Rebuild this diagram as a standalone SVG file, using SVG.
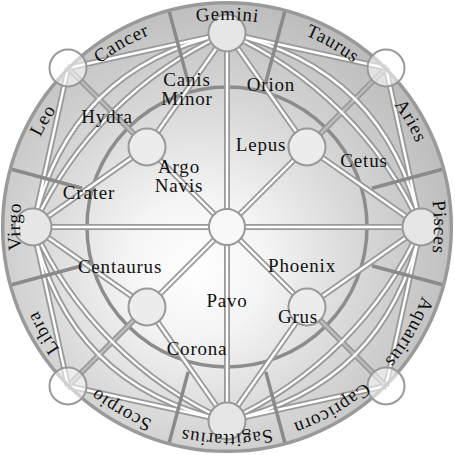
<svg xmlns="http://www.w3.org/2000/svg" width="455" height="455" viewBox="0 0 455 455">
<defs>
<radialGradient id="bg" gradientUnits="userSpaceOnUse" cx="200" cy="262" r="268" fx="195" fy="268">
<stop offset="0" stop-color="#ffffff"/>
<stop offset="0.25" stop-color="#f5f5f5"/>
<stop offset="0.6" stop-color="#d8d8d8"/>
<stop offset="1" stop-color="#bcbcbc"/>
</radialGradient>
<path id="ring" d="M 280.58,27.05 A 207,207 0 0 1 173.42,426.95 A 207,207 0 0 1 280.58,27.05"/>
<style>
.cas{fill:none;stroke:#9a9a9a;stroke-width:6}
.wht{fill:none;stroke:#ffffff;stroke-width:2.4}
.dg{fill:none;stroke:#bdbdbd;stroke-width:2.4}
.div{stroke:#8a8a8a;stroke-width:3.5;stroke-linecap:butt}
.node{fill:#e6e6e6;stroke:#999;stroke-width:2}
.inner{fill:#ececec;stroke:#999;stroke-width:2}
.corner{fill:#ffffff;fill-opacity:0.55;stroke:#999;stroke-width:2}
.t{font-family:"Liberation Serif","Times New Roman",serif;font-size:19px;fill:#111;letter-spacing:0.8px}
.m{text-anchor:middle}
</style>
</defs>

<g id="background">
<circle cx="227" cy="227" r="225" fill="url(#bg)"/>
<circle cx="227" cy="227" r="140" fill="none" stroke="#8c8c8c" stroke-width="3.5"/>
</g>

<g id="connectors">
<g class="cas">
<path d="M147,147 L68,68"/><path d="M307,147 L386,68"/><path d="M307,307 L386,386"/><path d="M147,307 L68,386"/>
<path d="M227,227 L227,33"/><path d="M227,227 L421,227"/><path d="M227,227 L227,421"/><path d="M227,227 L33,227"/>
<path d="M227,227 L147,147"/><path d="M227,227 L307,147"/><path d="M227,227 L307,307"/><path d="M227,227 L147,307"/>
<path d="M227,33 L68,68"/><path d="M227,33 L386,68"/><path d="M421,227 L386,68"/><path d="M421,227 L386,386"/>
<path d="M227,421 L386,386"/><path d="M227,421 L68,386"/><path d="M33,227 L68,386"/><path d="M33,227 L68,68"/>
<path d="M227,33 L147,147"/><path d="M227,33 L307,147"/><path d="M421,227 L307,147"/><path d="M421,227 L307,307"/>
<path d="M227,421 L307,307"/><path d="M227,421 L147,307"/><path d="M33,227 L147,307"/><path d="M33,227 L147,147"/>
<path d="M227,33 Q386,68 421,227"/><path d="M421,227 Q386,386 227,421"/><path d="M227,421 Q68,386 33,227"/><path d="M33,227 Q68,68 227,33"/>
<path d="M227,33 A387,387 0 0 1 421,227"/><path d="M421,227 A387,387 0 0 1 227,421"/><path d="M227,421 A387,387 0 0 1 33,227"/><path d="M33,227 A387,387 0 0 1 227,33"/>
</g>
<g class="dg">
<path d="M147,147 L68,68"/><path d="M307,147 L386,68"/><path d="M307,307 L386,386"/><path d="M147,307 L68,386"/>
</g>
<g class="wht">
<path d="M227,227 L227,33"/><path d="M227,227 L421,227"/><path d="M227,227 L227,421"/><path d="M227,227 L33,227"/>
<path d="M227,227 L147,147"/><path d="M227,227 L307,147"/><path d="M227,227 L307,307"/><path d="M227,227 L147,307"/>
<path d="M227,33 L68,68"/><path d="M227,33 L386,68"/><path d="M421,227 L386,68"/><path d="M421,227 L386,386"/>
<path d="M227,421 L386,386"/><path d="M227,421 L68,386"/><path d="M33,227 L68,386"/><path d="M33,227 L68,68"/>
<path d="M227,33 L147,147"/><path d="M227,33 L307,147"/><path d="M421,227 L307,147"/><path d="M421,227 L307,307"/>
<path d="M227,421 L307,307"/><path d="M227,421 L147,307"/><path d="M33,227 L147,307"/><path d="M33,227 L147,147"/>
<path d="M227,33 Q386,68 421,227"/><path d="M421,227 Q386,386 227,421"/><path d="M227,421 Q68,386 33,227"/><path d="M33,227 Q68,68 227,33"/>
<path d="M227,33 A387,387 0 0 1 421,227"/><path d="M421,227 A387,387 0 0 1 227,421"/><path d="M227,421 A387,387 0 0 1 33,227"/><path d="M33,227 A387,387 0 0 1 227,33"/>
</g>
</g>

<g id="dividers" class="div">
<line x1="265.8" y1="82.1" x2="285.0" y2="10.6"/>
<line x1="188.2" y1="82.1" x2="169.0" y2="10.6"/>
<line x1="371.9" y1="188.2" x2="443.4" y2="169.0"/>
<line x1="371.9" y1="265.8" x2="443.4" y2="285.0"/>
<line x1="265.8" y1="371.9" x2="285.0" y2="443.4"/>
<line x1="188.2" y1="371.9" x2="169.0" y2="443.4"/>
<line x1="82.1" y1="265.8" x2="10.6" y2="285.0"/>
<line x1="82.1" y1="188.2" x2="10.6" y2="169.0"/>
</g>

<g id="rim">
<circle cx="227" cy="227" r="224.3" fill="none" stroke="#9a9a9a" stroke-width="3.5"/>
</g>

<g id="node-center"><circle class="node" cx="227" cy="227" r="18" style="fill:#f8f8f8"/></g>
<g id="node-gemini"><circle class="node" cx="227" cy="33" r="18.5"/></g>
<g id="node-pisces"><circle class="node" cx="421" cy="227" r="18.5"/></g>
<g id="node-sagittarius"><circle class="node" cx="227" cy="421" r="18.5"/></g>
<g id="node-virgo"><circle class="node" cx="33" cy="227" r="18.5"/></g>
<g id="node-argo-navis"><circle class="inner" cx="147" cy="147" r="18.5"/></g>
<g id="node-lepus"><circle class="inner" cx="307" cy="147" r="18.5"/></g>
<g id="node-grus"><circle class="inner" cx="307" cy="307" r="18.5"/></g>
<g id="node-centaurus"><circle class="inner" cx="147" cy="307" r="18.5"/></g>
<g id="node-leo-cancer"><circle class="corner" cx="68" cy="68" r="18.5"/></g>
<g id="node-taurus-aries"><circle class="corner" cx="386" cy="68" r="18.5"/></g>
<g id="node-aquarius-capricorn"><circle class="corner" cx="386" cy="386" r="18.5"/></g>
<g id="node-scorpio-libra"><circle class="corner" cx="68" cy="386" r="18.5"/></g>

<g id="ring-labels" class="t m">
<text><textPath href="#ring" startOffset="1246.4">Gemini</textPath></text>
<text><textPath href="#ring" startOffset="54.2">Taurus</textPath></text>
<text><textPath href="#ring" startOffset="162.6">Aries</textPath></text>
<text><textPath href="#ring" startOffset="271.0">Pisces</textPath></text>
<text><textPath href="#ring" startOffset="379.3">Aquarius</textPath></text>
<text><textPath href="#ring" startOffset="487.7">Capricorn</textPath></text>
<text><textPath href="#ring" startOffset="596.1">Sagittarius</textPath></text>
<text><textPath href="#ring" startOffset="704.5">Scorpio</textPath></text>
<text><textPath href="#ring" startOffset="812.9">Libra</textPath></text>
<text><textPath href="#ring" startOffset="921.3">Virgo</textPath></text>
<text><textPath href="#ring" startOffset="1029.6">Leo</textPath></text>
<text><textPath href="#ring" startOffset="1138.0">Cancer</textPath></text>
</g>

<g id="inner-labels" class="t m">
<text x="187" y="86">Canis</text>
<text x="187" y="105">Minor</text>
<text x="107" y="123">Hydra</text>
<text x="179" y="173">Argo</text>
<text x="179" y="192">Navis</text>
<text x="89" y="199">Crater</text>
<text x="271" y="91">Orion</text>
<text x="261" y="151">Lepus</text>
<text x="364" y="167">Cetus</text>
<text x="120" y="273">Centaurus</text>
<text x="227" y="307">Pavo</text>
<text x="197" y="355">Corona</text>
<text x="302" y="272">Phoenix</text>
<text x="298" y="323">Grus</text>
</g>
</svg>
